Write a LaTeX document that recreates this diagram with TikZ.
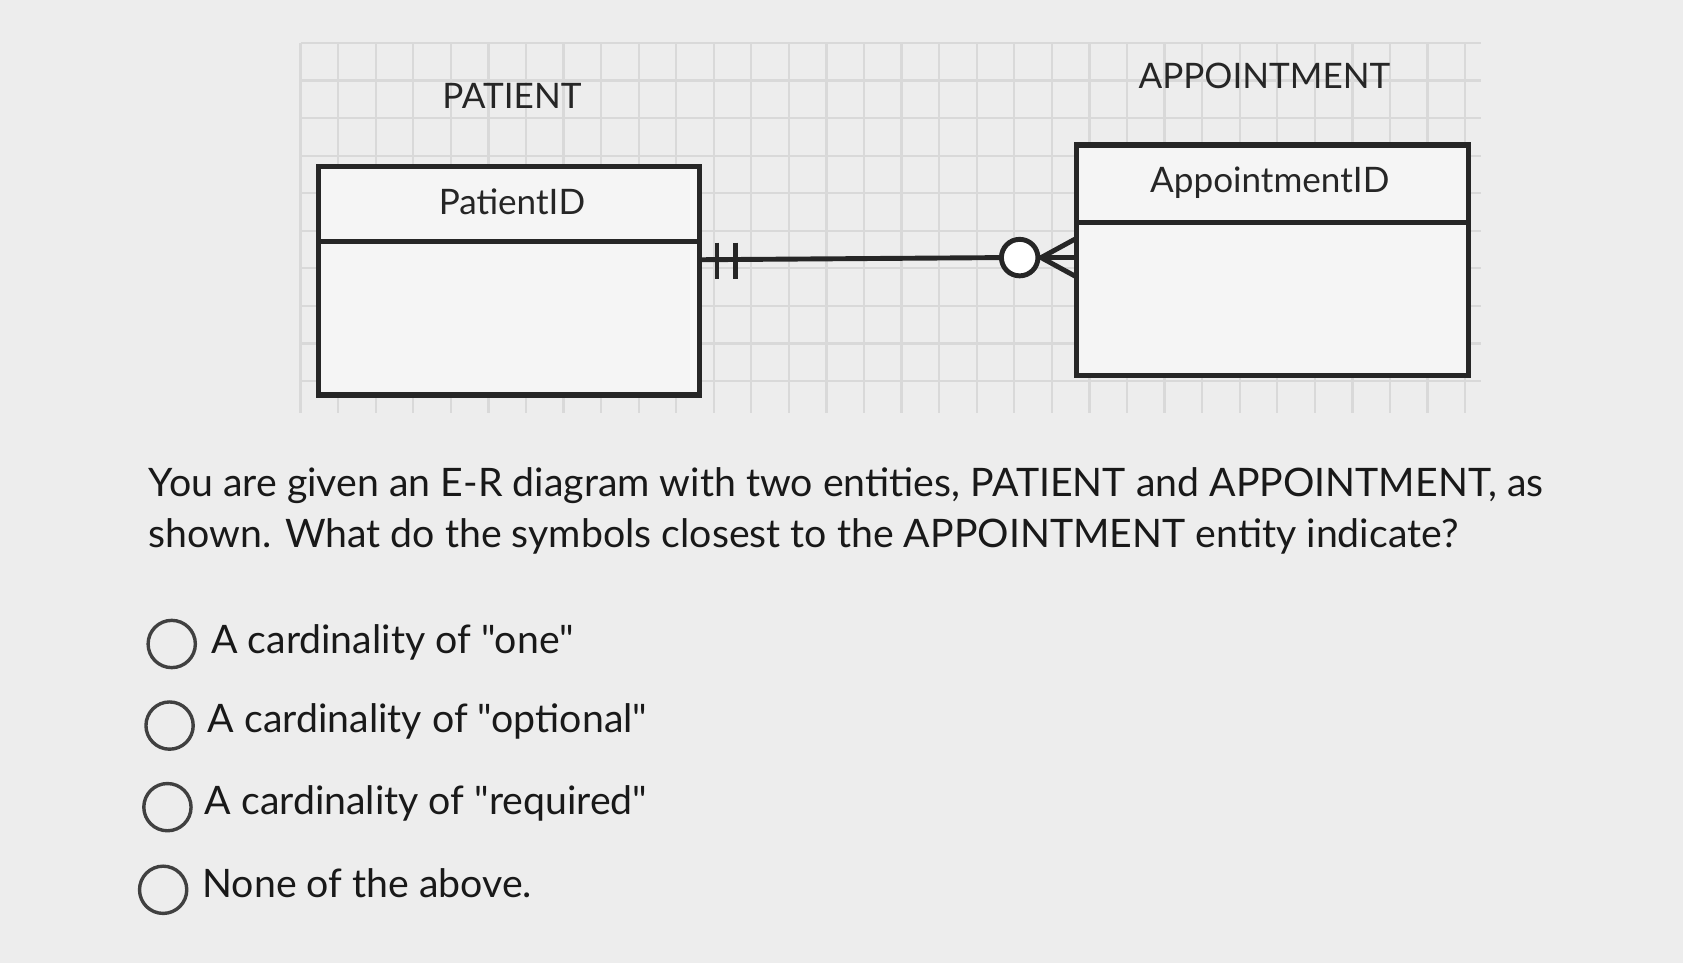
\documentclass[tikz,border=0pt]{standalone}
\usepackage{fontspec}
\setmainfont[Ligatures=TeXOff]{Lato}
\newcommand{\dq}{\char"22\relax}
\begin{document}
\begin{tikzpicture}[x=0.01cm,y=-0.01cm,
  ent/.style={draw=black!85,line width=1.4pt},
  lbl/.style={font=\fontsize{9.3}{11}\selectfont,text=black!85},
  qtext/.style={font=\fontsize{10.4}{13}\selectfont,anchor=base west,inner sep=0pt,text=black!90},
  radio/.style={draw=black!75,line width=0.9pt,circle,minimum size=0.44cm,inner sep=0pt}]
\fill[black!7] (0,0) rectangle (1568,897);
\useasboundingbox (0,0) rectangle (1568,897);
% grid
\foreach \gx in {280,315,...,1380} \draw[black!15,line width=0.6pt] (\gx,40) -- (\gx,385);
\foreach \gy in {40,75,...,385} \draw[black!15,line width=0.6pt] (280,\gy) -- (1380,\gy);
% entities
\draw[ent,fill=black!4] (297,155) rectangle (652,368);
\draw[ent] (297,225) -- (652,225);
\draw[ent,fill=black!4] (1003,135) rectangle (1368,350);
\draw[ent] (1003,207) -- (1368,207);
\node[lbl] (pt) at (477,89) {PATIENT};
\node[lbl] (ap) at (1178,71) {APPOINTMENT};
\node[lbl] (pid) at (477,188) {PatientID};
\node[lbl] (aid) at (1183,170) {AppointmentID};
\coordinate (pa) at (652,242);
\coordinate (aa) at (1003,240);
\node[draw=black!85,line width=1.3pt,circle,minimum size=0.34cm,inner sep=0pt,fill=white] (oc) at (950,240) {};
\draw[black!85,line width=1.3pt] (pa) -- (oc.west);
\draw[black!85,line width=1.3pt] (oc.east) -- (aa);
\draw[black!85,line width=1.3pt] (668,226) -- (668,260) (685,226) -- (685,260);
\draw[black!85,line width=1.3pt] (1003,222) -- (970,240) -- (1003,258);
% question
\node[qtext] (q1) at (138,463) {You are given an E-R diagram with two entities, PATIENT and APPOINTMENT, as};
\node[qtext] (q2) at (138,510) {shown. What do the symbols closest to the APPOINTMENT entity indicate?};
\node[radio] (r1) at (160,600) {};
\node[radio] (r2) at (158,676) {};
\node[radio] (r3) at (156,752) {};
\node[radio] (r4) at (152,829) {};
\node[qtext] (o1) at (196,609) {A cardinality of \dq one\dq};
\node[qtext] (o2) at (193,682) {A cardinality of \dq optional\dq};
\node[qtext] (o3) at (190,759) {A cardinality of \dq required\dq};
\node[qtext] (o4) at (188,836) {None of the above.};
\end{tikzpicture}
\end{document}
